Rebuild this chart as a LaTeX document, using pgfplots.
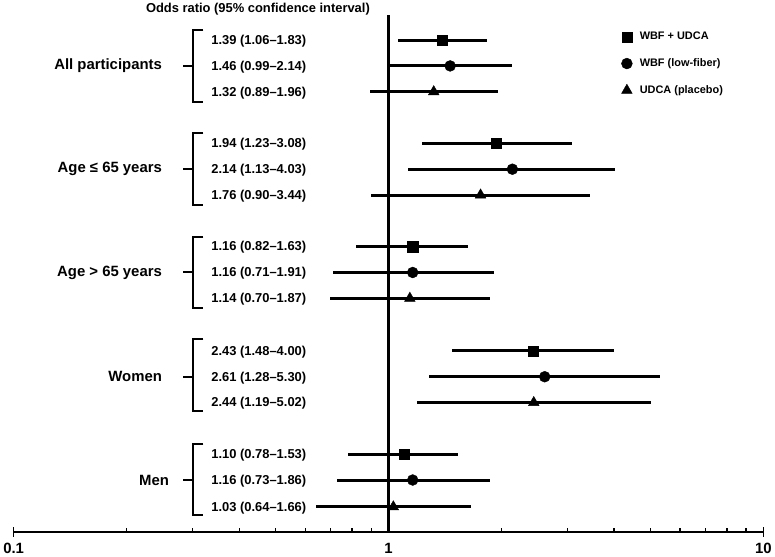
\documentclass[border=0pt]{standalone}
\usepackage{pgfplots}
\pgfplotsset{compat=1.18}
\usepackage{pgfplotstable}
\usepackage{fontspec}
\setmainfont{Liberation Sans}

\pgfplotstableread{
y or lo hi
-38 1.39 1.06 1.83
-142 1.94 1.23 3.08
-246 1.16 0.82 1.63
-351 2.43 1.48 4.00
-455 1.10 0.78 1.53
}\wbfudca
\pgfplotstableread{
y or lo hi
-64 1.46 0.99 2.14
-168 2.14 1.13 4.03
-272 1.16 0.71 1.91
-377 2.61 1.28 5.30
-481 1.16 0.73 1.86
}\wbflow
\pgfplotstableread{
y or lo hi
-90 1.32 0.89 1.96
-194 1.76 0.90 3.44
-298 1.14 0.70 1.87
-403 2.44 1.19 5.02
-508 1.03 0.64 1.66
}\udca

\begin{document}
\begin{tikzpicture}
\begin{axis}[
  scale only axis, width=755pt, height=520pt,
  xmode=log, xmin=0.1, xmax=10, ymin=-533, ymax=-13,
  axis x line*=bottom, axis y line=none,
  axis line style={line width=2.2pt},
  xtick={0.1,1,10}, xticklabels={0.1,1,10},
  tick align=inside, major tick length=0pt, minor tick length=4pt,
  tick style={black, line width=1.6pt},
  extra x ticks={0.1,10}, extra x tick labels={},
  extra x tick style={tick align=center, major tick length=10pt},
  xticklabel style={font=\bfseries\fontsize{15}{17}\selectfont, yshift=-8pt},
  clip=false,
  legend style={draw=none, fill=none, at={(axis cs:4.10,-26)}, anchor=north west,
    font=\bfseries\fontsize{11}{13}\selectfont, row sep=13.5pt,
    nodes={inner xsep=7.5pt}},
  legend cell align=left,
]
% reference line at 1
\addplot[black, line width=2.4pt, forget plot] coordinates {(1,-533) (1,-13)};

\addplot[black, only marks, mark=square*, mark size=5.2pt,
  error bars/.cd, x dir=both, x explicit, error mark=none,
  error bar style={line width=3pt, black}]
  table[x=or, y=y, x error plus expr=\thisrow{hi}-\thisrow{or}, x error minus expr=\thisrow{or}-\thisrow{lo}] {\wbfudca};
\addlegendentry{WBF + UDCA}
\addplot[black, only marks, mark=*, mark size=5.5pt,
  error bars/.cd, x dir=both, x explicit, error mark=none,
  error bar style={line width=3pt, black}]
  table[x=or, y=y, x error plus expr=\thisrow{hi}-\thisrow{or}, x error minus expr=\thisrow{or}-\thisrow{lo}] {\wbflow};
\addlegendentry{WBF (low-fiber)}
\addplot[black, only marks, mark=triangle*, mark size=6.2pt,
  error bars/.cd, x dir=both, x explicit, error mark=none,
  error bar style={line width=3pt, black}]
  table[x=or, y=y, x error plus expr=\thisrow{hi}-\thisrow{or}, x error minus expr=\thisrow{or}-\thisrow{lo}] {\udca};
\addlegendentry{UDCA (placebo)}

% header
\node[font=\bfseries\fontsize{13}{15}\selectfont] at (axis cs:0.4483,-7) {Odds ratio (95\% confidence interval)};

% brackets
\begin{scope}[line width=2pt]
\draw (axis cs:0.3206,-28) -- (axis cs:0.3016,-28) -- (axis cs:0.3016,-100) -- (axis cs:0.3206,-100);
\draw (axis cs:0.2838,-64) -- (axis cs:0.3016,-64);
\draw (axis cs:0.3206,-132) -- (axis cs:0.3016,-132) -- (axis cs:0.3016,-204) -- (axis cs:0.3206,-204);
\draw (axis cs:0.2838,-168) -- (axis cs:0.3016,-168);
\draw (axis cs:0.3206,-236) -- (axis cs:0.3016,-236) -- (axis cs:0.3016,-308) -- (axis cs:0.3206,-308);
\draw (axis cs:0.2838,-272) -- (axis cs:0.3016,-272);
\draw (axis cs:0.3206,-339) -- (axis cs:0.3016,-339) -- (axis cs:0.3016,-411) -- (axis cs:0.3206,-411);
\draw (axis cs:0.2838,-377) -- (axis cs:0.3016,-377);
\draw (axis cs:0.3206,-445) -- (axis cs:0.3016,-445) -- (axis cs:0.3016,-516) -- (axis cs:0.3206,-516);
\draw (axis cs:0.2838,-481) -- (axis cs:0.3016,-481);
\end{scope}

% group labels
\begin{scope}[every node/.style={font=\bfseries\fontsize{15}{17}\selectfont, anchor=east}]
\node at (axis cs:0.2540,-64) {All participants};
\node at (axis cs:0.2540,-168) {Age ≤ 65 years};
\node at (axis cs:0.2540,-272) {Age > 65 years};
\node at (axis cs:0.2540,-377) {Women};
\node at (axis cs:0.2653,-481) {Men};
\end{scope}

% OR labels
\begin{scope}[every node/.style={font=\bfseries\fontsize{13}{15}\selectfont, anchor=west, inner sep=0pt}]
\node at (axis cs:0.3366,-39) {1.39 (1.06–1.83)};
\node at (axis cs:0.3366,-65) {1.46 (0.99–2.14)};
\node at (axis cs:0.3366,-91) {1.32 (0.89–1.96)};
\node at (axis cs:0.3366,-143) {1.94 (1.23–3.08)};
\node at (axis cs:0.3366,-169) {2.14 (1.13–4.03)};
\node at (axis cs:0.3366,-195) {1.76 (0.90–3.44)};
\node at (axis cs:0.3366,-247) {1.16 (0.82–1.63)};
\node at (axis cs:0.3366,-273) {1.16 (0.71–1.91)};
\node at (axis cs:0.3366,-299) {1.14 (0.70–1.87)};
\node at (axis cs:0.3366,-352) {2.43 (1.48–4.00)};
\node at (axis cs:0.3366,-378) {2.61 (1.28–5.30)};
\node at (axis cs:0.3366,-404) {2.44 (1.19–5.02)};
\node at (axis cs:0.3366,-456) {1.10 (0.78–1.53)};
\node at (axis cs:0.3366,-482) {1.16 (0.73–1.86)};
\node at (axis cs:0.3366,-509) {1.03 (0.64–1.66)};
\end{scope}
\end{axis}
\end{tikzpicture}
\end{document}
